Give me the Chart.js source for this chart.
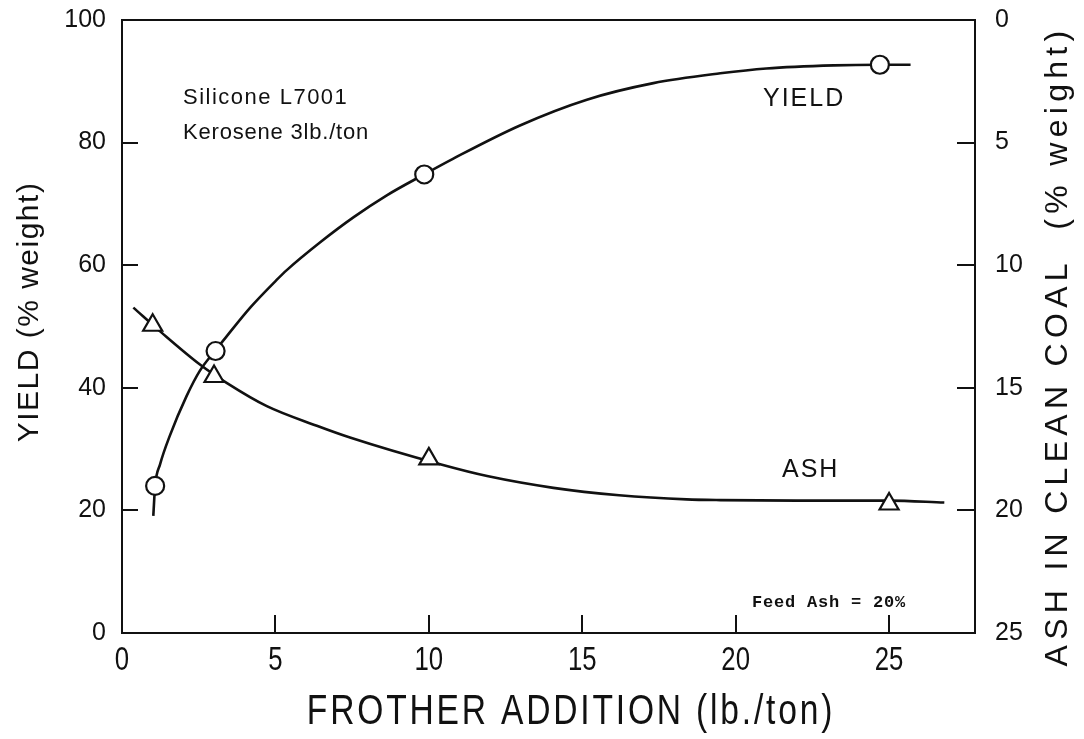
<!DOCTYPE html>
<html>
<head>
<meta charset="utf-8">
<script src="https://cdn.jsdelivr.net/npm/chart.js@4.4.1/dist/chart.umd.min.js"></script>
<style>
  html, body { margin: 0; padding: 0; background: #fff; }
  #wrap { width: 1084px; height: 739px; }
</style>
</head>
<body>
<div id="wrap"><canvas id="c" width="1084" height="739"></canvas></div>
<script>
// ---- Data ----
// Frother addition (lb./ton) and yield (% weight) for measured points
const yieldPointX = [1.08, 3.05, 9.85, 24.7];
const yieldPointY = [24.0, 46.0, 74.8, 92.7];
// Yield fitted curve (traced)
const yieldCurveX = [1.02, 1.08, 1.24, 1.56, 2.1, 2.54, 3.06, 3.41, 4.2, 5.04, 5.37, 6.45, 7.54, 8.63, 9.84, 10.8, 12.97, 15.15, 17.32, 19.5, 21.0, 23.2, 24.7, 25.7];
const yieldCurveY = [19.1, 24.0, 27.5, 32.2, 38.6, 42.8, 46.2, 48.4, 53.2, 57.6, 59.2, 63.7, 67.8, 71.4, 74.8, 77.4, 82.8, 87.0, 89.7, 91.3, 92.1, 92.6, 92.7, 92.7];
// Ash in clean coal (% weight) measured points
const ashPointX = [1.0, 3.0, 10.0, 25.0];
const ashPointY = [12.45, 14.54, 17.9, 19.74];
// Ash fitted curve (traced)
const ashCurveX = [0.37, 1.29, 2.54, 3.41, 4.72, 6.35, 7.43, 10.4, 11.9, 14.06, 16.2, 18.4, 19.5, 22.0, 25.0, 26.8];
const ashCurveY = [11.73, 12.75, 14.05, 14.8, 15.75, 16.55, 17.03, 18.13, 18.6, 19.08, 19.38, 19.55, 19.58, 19.6, 19.6, 19.68];
// Axis ticks
const xTicks = [0, 5, 10, 15, 20, 25];
const yieldTicks = [0, 20, 40, 60, 80, 100];
const ashTicks = [0, 5, 10, 15, 20, 25];

const pts = (xs, ys) => xs.map((x, i) => ({ x: x, y: ys[i] }));
const INK = '#111';

function narrowText(ctx, text, x, y, sx) {
  ctx.save();
  ctx.translate(x, y);
  ctx.scale(sx, 1);
  ctx.fillText(text, 0, 0);
  ctx.restore();
}

const decor = {
  id: 'decor',
  afterDraw(chart) {
    const ctx = chart.ctx;
    const a = chart.chartArea;
    const sx = chart.scales.x, sy = chart.scales.y, sy2 = chart.scales.y2;
    ctx.save();
    ctx.strokeStyle = INK;
    ctx.lineWidth = 2;
    ctx.strokeRect(a.left, a.top, a.right - a.left, a.bottom - a.top);
    // inward ticks
    ctx.beginPath();
    yieldTicks.forEach(v => {
      if (v <= sy.min || v >= sy.max) return;
      const p = Math.round(sy.getPixelForValue(v));
      ctx.moveTo(a.left, p); ctx.lineTo(a.left + 16, p);
    });
    ashTicks.forEach(v => {
      if (v <= sy2.min || v >= sy2.max) return;
      const p = Math.round(sy2.getPixelForValue(v));
      ctx.moveTo(a.right, p); ctx.lineTo(a.right - 18, p);
    });
    xTicks.forEach(v => {
      if (v <= sx.min || v >= sx.max) return;
      const p = Math.round(sx.getPixelForValue(v));
      ctx.moveTo(p, a.bottom); ctx.lineTo(p, a.bottom - 18);
    });
    ctx.stroke();

    ctx.fillStyle = INK;
    ctx.textBaseline = 'middle';
    // x tick labels (narrow face)
    ctx.textAlign = 'center';
    ctx.font = '33px "Liberation Sans", Arial, sans-serif';
    ctx.letterSpacing = '0px';
    xTicks.forEach(v => {
      narrowText(ctx, String(v), sx.getPixelForValue(v), a.bottom + 28, 0.78);
    });

    ctx.textAlign = 'left';
    ctx.font = '22px "Liberation Sans", Arial, sans-serif';
    ctx.letterSpacing = '1.5px';
    ctx.fillText('Silicone L7001', 183, 98);
    ctx.letterSpacing = '0.8px';
    ctx.fillText('Kerosene 3lb./ton', 183, 133);
    ctx.font = '25px "Liberation Sans", Arial, sans-serif';
    ctx.letterSpacing = '2px';
    ctx.fillText('YIELD', 763, 99);
    ctx.fillText('ASH', 782, 470);
    ctx.font = 'bold 17px "Liberation Mono", "DejaVu Sans Mono", monospace';
    ctx.letterSpacing = '0.8px';
    ctx.fillText('Feed Ash = 20%', 752, 603);

    // axis titles
    ctx.textAlign = 'center';
    ctx.font = '42px "Liberation Sans", Arial, sans-serif';
    ctx.letterSpacing = '3.5px';
    narrowText(ctx, 'FROTHER ADDITION (lb./ton)', 571, 712, 0.8);

    ctx.font = '30px "Liberation Sans", Arial, sans-serif';
    ctx.letterSpacing = '1.5px';
    ctx.save();
    ctx.translate(30, 312);
    ctx.rotate(-Math.PI / 2);
    ctx.fillText('YIELD (% weight)', 0, 0);
    ctx.restore();

    ctx.save();
    ctx.translate(1058, 346);
    ctx.rotate(-Math.PI / 2);
    ctx.font = '32px "Liberation Sans", Arial, sans-serif';
    ctx.letterSpacing = '5.3px';
    ctx.fillText('ASH IN CLEAN COAL  (% weight)', 0, 0);
    ctx.restore();
    ctx.restore();
  }
};

const fitY = w => s => { s.width = w; s.paddingTop = 0; s.paddingBottom = 0; };

new Chart(document.getElementById('c'), {
  type: 'scatter',
  data: {
    datasets: [
      { label: 'Yield curve', data: pts(yieldCurveX, yieldCurveY), yAxisID: 'y', showLine: true,
        borderColor: INK, borderWidth: 2.6, pointRadius: 0, cubicInterpolationMode: 'monotone', order: 3 },
      { label: 'Ash curve', data: pts(ashCurveX, ashCurveY), yAxisID: 'y2', showLine: true,
        borderColor: INK, borderWidth: 2.6, pointRadius: 0, cubicInterpolationMode: 'monotone', order: 3 },
      { label: 'Yield', data: pts(yieldPointX, yieldPointY), yAxisID: 'y', showLine: false,
        pointStyle: 'circle', pointRadius: 9, pointBorderWidth: 2.2, pointBackgroundColor: '#fff', pointBorderColor: INK, order: 1 },
      { label: 'Ash', data: pts(ashPointX, ashPointY), yAxisID: 'y2', showLine: false,
        pointStyle: 'triangle', pointRadius: 11, pointBorderWidth: 2.2, pointBackgroundColor: '#fff', pointBorderColor: INK, order: 1 }
    ]
  },
  options: {
    responsive: false,
    animation: false,
    events: [],
    layout: { padding: { top: 20, left: 0, right: 0, bottom: 0 } },
    plugins: { legend: { display: false }, tooltip: { enabled: false } },
    scales: {
      x: {
        type: 'linear', min: 0, max: 27.8, position: 'bottom',
        grid: { display: false }, border: { display: false },
        afterBuildTicks: s => { s.ticks = xTicks.map(v => ({ value: v })); },
        ticks: { display: false },
        afterFit: s => { s.height = 106; s.paddingLeft = 0; s.paddingRight = 0; }
      },
      y: {
        type: 'linear', min: 0, max: 100, position: 'left',
        grid: { display: false }, border: { display: false },
        afterBuildTicks: s => { s.ticks = yieldTicks.map(v => ({ value: v })); },
        ticks: { padding: 8, color: INK, font: { family: '"Liberation Sans", Arial, sans-serif', size: 25 } },
        afterFit: fitY(122)
      },
      y2: {
        type: 'linear', min: 0, max: 25, reverse: true, position: 'right',
        grid: { display: false }, border: { display: false },
        afterBuildTicks: s => { s.ticks = ashTicks.map(v => ({ value: v })); },
        ticks: { padding: 12, color: INK, font: { family: '"Liberation Sans", Arial, sans-serif', size: 25 } },
        afterFit: fitY(109)
      }
    }
  },
  plugins: [decor]
});
</script>
</body>
</html>
